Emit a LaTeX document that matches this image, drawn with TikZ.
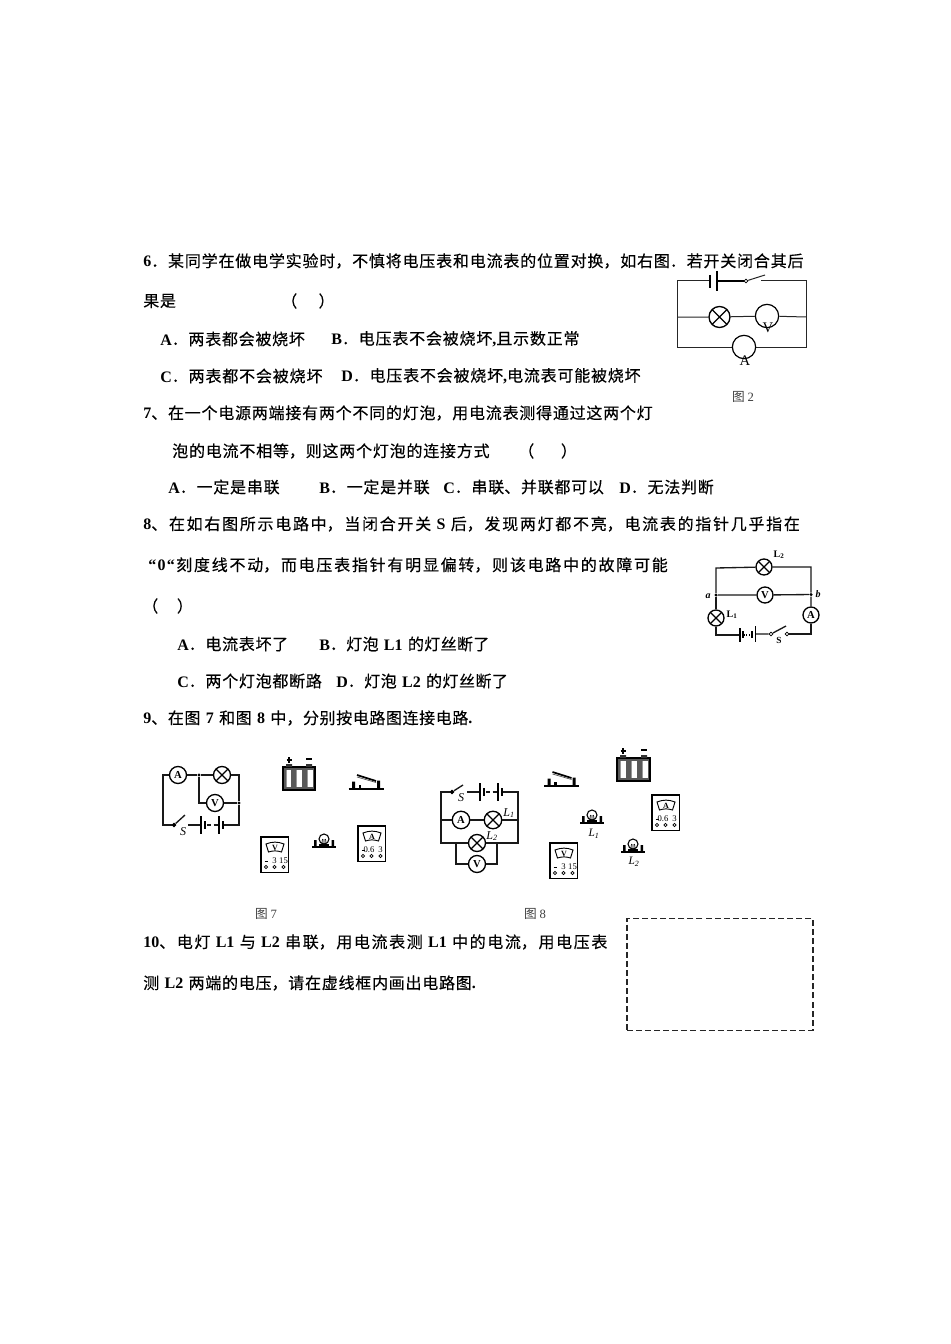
\documentclass[tikz,border=0pt]{standalone}
\usepackage{fontspec}
\setmainfont{Liberation Serif}
\newfontfamily\zhf[FakeBold=0.25]{Noto Sans CJK SC}
\newfontfamily\zhc{Noto Sans CJK SC}
\newfontfamily\ltf{Liberation Serif}[BoldFont={Liberation Serif Bold}]
\newcommand{\la}[1]{{\ltf\bfseries #1}}
\usetikzlibrary{calc}
\tikzset{
  wire/.style={line width=1pt,black!90},
  thinw/.style={line width=0.75pt,black!85},
  meterc/.style={circle,draw=black,line width=1pt,fill=white,inner sep=0pt,minimum size=#1*0.75pt,font=\ltf\bfseries\fontsize{8}{8}\selectfont},
  lamp/.style={circle,draw=black,line width=1pt,fill=white,inner sep=0pt,minimum size=#1*0.75pt,
    path picture={\draw[line width=0.9pt] (path picture bounding box.north west)--(path picture bounding box.south east)
      (path picture bounding box.north east)--(path picture bounding box.south west);}},
  jdot/.style={circle,fill=black,inner sep=0pt,minimum size=2.6pt},
  odot/.style={circle,draw=black,fill=white,line width=0.6pt,inner sep=0pt,minimum size=2.8pt},
  lab/.style={inner sep=0pt,font=\ltf\fontsize{8}{8}\selectfont},
  figcap/.style={inner sep=0pt,text=black!75,font=\zhc\fontsize{9.5}{10}\selectfont},
  tline/.style={anchor=west,inner sep=0pt,font=\zhf\fontsize{12}{14}\selectfont,text=black},
}
% justified single line from x1 to x2
\newcommand{\tl}[5]{%
  \pgfmathsetmacro{\tlw}{(#4+1.5-#2)*0.75}%
  \node[tline,text width=\tlw pt] (#1) at (#2,#3) {\XeTeXlinebreaklocale "zh"\XeTeXlinebreakskip=0pt plus 6pt\parindent=0pt\parfillskip=0pt\relax #5\par};}
% three-cell battery, origin at top-left of case
\newcommand{\batt}[3]{\begin{scope}[shift={(#1,#2)}]
  \filldraw[fill=black!65,draw=black,line width=0.9pt] (0,0) rectangle (#3,23);
  \foreach \i in {0,1,2}{\fill[white] ({2.5+\i*#3/3},3) rectangle ({#3/3*(\i+1)-2.5},20);
    \fill[black!40] ({2.5+\i*#3/3},3) rectangle ({3.5+\i*#3/3},20);}
  \fill[black!80] (3,-3) rectangle (9,0) ({#3-9},-3) rectangle ({#3-3},0);
  \draw[line width=0.9pt] (6,-4) -- (6,-10) (3.5,-7) -- (8.5,-7) ({#3-9},-8) -- ({#3-3},-8);
\end{scope}}
% knife switch, origin at centre of base
\newcommand{\knife}[2]{\begin{scope}[shift={(#1,#2)}]
  \draw[line width=1.6pt] (-17.5,0) -- (17.5,0);
  \fill (-14,0) rectangle (-11,-7.5) (11,0) rectangle (14,-8.5);
  \fill (-7.5,0) rectangle (-5,-4);
  \draw[line width=1.3pt] (-9,-14) -- (10,-8);
  \draw[line width=0.5pt,black!70] (-9,-12) -- (10,-6.5);
\end{scope}}
% bulb on base, origin at centre of base
\newcommand{\bulb}[2]{\begin{scope}[shift={(#1,#2)}]
  \draw[line width=1.7pt] (-12,0) -- (12,0);
  \fill (-10,0) rectangle (-7.5,-7) (7.5,0) rectangle (10,-7);
  \fill (-5,0) rectangle (5,-3);
  \draw[line width=0.8pt,fill=white] (0,-8) circle (5);
  \draw[line width=0.5pt] (-2.5,-1) -- (-1.5,-8) (0,-1)--(0,-8) (2.5,-1)--(1.5,-8);
\end{scope}}
% meter: x,y (top-left), gauge letter, x of label 1, label 1, x of label 2, label 2, name
\newcommand{\meterbox}[8]{\begin{scope}[shift={(#1,#2)}]
  \draw[line width=1pt,fill=white] (0,0) rectangle (27.5,35.5);
  \draw[line width=0.7pt] (5,7) .. controls (11,4.5) and (17,4.5) .. (23,7) -- (20.5,15) .. controls (16,13.5) and (12,13.5) .. (7.5,15) -- cycle;
  \node[inner sep=0pt,font=\ltf\bfseries\fontsize{6}{6}\selectfont] (#8) at (14,10.5) {#3};
  \foreach \xx in {5,13.5,22.5}{\draw[line width=0.5pt] (\xx,30) circle (1.6);}
  \draw[line width=0.5pt] (3.5,24.5) -- (6.5,24.5);
  \node[inner sep=0pt,font=\ltf\fontsize{6.5}{6.5}\selectfont] (#8a) at (#4,24) {#5};
  \node[inner sep=0pt,font=\ltf\fontsize{6.5}{6.5}\selectfont] (#8b) at (#6,24) {#7};
\end{scope}}
\begin{document}
\begin{tikzpicture}[x=0.75pt,y=-0.75pt]
\useasboundingbox (0,0) rectangle (950,1344);
\fill[white] (0,0) rectangle (950,1344);

% ---- text ----
\tl{t6}{143}{261}{805}{\la{6}．某同学在做电学实验时，不慎将电压表和电流表的位置对换，如右图．若开关闭合其后}
\tl{t6b}{143}{301}{177}{果是}
\node[tline] (t6p) at (281,301) {（\hspace{16pt}）};
\tl{t6A}{160}{339}{306}{\la{A}．两表都会被烧坏}
\tl{t6B}{331}{339}{581}{\la{B}．电压表不会被烧坏\la{,}且示数正常}
\tl{t6C}{160}{376}{324}{\la{C}．两表都不会被烧坏}
\tl{t6D}{341}{376}{642}{\la{D}．电压表不会被烧坏\la{,}电流表可能被烧坏}
\tl{t7}{143}{413}{654}{\la{7}、在一个电源两端接有两个不同的灯泡，用电流表测得通过这两个灯}
\tl{t7b}{172}{451}{491}{泡的电流不相等，则这两个灯泡的连接方式}
\node[tline] (t7p) at (518,451) {（\hspace{20pt}）};
\tl{t7A}{168}{487}{281}{\la{A}．一定是串联}
\tl{t7B}{319}{487}{431}{\la{B}．一定是并联}
\tl{t7C}{443}{487}{605}{\la{C}．串联、并联都可以}
\tl{t7D}{619}{487}{715}{\la{D}．无法判断}
\tl{t8}{143}{524}{805}{\la{8}、在如右图所示电路中，当闭合开关 \la{S} 后，发现两灯都不亮，电流表的指针几乎指在}
\tl{t8b}{148}{565}{673}{\la{“\hspace{1pt}0\hspace{1pt}“}\hspace{1pt}刻度线不动，而电压表指针有明显偏转，则该电路中的故障可能}
\node[tline] (t8p) at (142,606) {（\hspace{14pt}）};
\tl{t8A}{177}{644}{289}{\la{A}．电流表坏了}
\tl{t8B}{319}{644}{489}{\la{B}．灯泡 \la{L1} 的灯丝断了}
\tl{t8C}{177}{681}{323}{\la{C}．两个灯泡都断路}
\tl{t8D}{336}{681}{508}{\la{D}．灯泡 \la{L2} 的灯丝断了}
\tl{t9}{143}{718}{473}{\la{9}、在图 \la{7} 和图 \la{8} 中，分别按电路图连接电路\la{.}}
\tl{t10}{143}{942}{612}{\la{10}、电灯 \la{L1} 与 \la{L2} 串联，用电流表测 \la{L1} 中的电流，用电压表}
\tl{t10b}{143}{983}{477}{测 \la{L2} 两端的电压，请在虚线框内画出电路图\la{.}}
\node[figcap] (c2) at (743,397) {图 {\ltf 2}};
\node[figcap] (c7) at (266,914) {图 {\ltf 7}};
\node[figcap] (c8) at (535,914) {图 {\ltf 8}};

% ---- figure 2 ----
\coordinate (a1) at (677,281); \coordinate (a2) at (806,281);
\coordinate (a3) at (677,317); \coordinate (a4) at (806,317);
\coordinate (a5) at (677,347); \coordinate (a6) at (806,347);
\coordinate (ap) at (710,281); \coordinate (aq) at (717,281);
\node[odot] (asw) at (746,281) {};
\coordinate (asl) at (765,275); \coordinate (asr) at (761,281);
\draw[thinw] (ap) -- (a1) -- (a5) -- (a6) -- (a2) -- (asr);
\draw[line width=1.2pt] (aq) -- (asw);
\draw[thinw] (asw) -- (asl);
\draw[line width=1.5pt] (710,275) -- (710,288);
\draw[line width=1pt] (717,271) -- (717,291);
\node[lamp=21] (al) at (719.5,317) {};
\node[circle,draw=black,line width=0.9pt,fill=white,inner sep=0pt,minimum size=17.5pt] (av) at (767,316) {};
\node[circle,draw=black,line width=0.9pt,fill=white,inner sep=0pt,minimum size=17.5pt] (aa) at (744,347) {};
\draw[thinw] (a3) -- (al) -- (av) -- (a4);
\node[lab,font=\ltf\fontsize{11}{11}\selectfont] (avt) at (768,328) {V};
\node[lab,font=\ltf\fontsize{11}{11}\selectfont] (aat) at (745,361) {A};

% ---- figure for question 8 ----
\node[lamp=16] (bl2) at (764,567) {};
\node[meterc=16] (bv) at (765,595) {V};
\node[lamp=16] (bl1) at (716,618) {};
\node[meterc=16] (ba) at (811,615) {A};
\node[jdot] (bja) at (716,595) {};
\node[jdot] (bjb) at (811,594.5) {};
\coordinate (b1) at (716,568); \coordinate (b2) at (811,567);
\coordinate (b3) at (716,635); \coordinate (b4) at (811,634);
\node[odot] (bs1) at (771,634) {};
\node[odot] (bs2) at (787,634) {};
\coordinate (bsl) at (786,626);
\draw[wire] (bja) -- (b1) -- (bl2) -- (b2) -- (bjb);
\draw[wire] (bja) -- (bv) -- (bjb) -- (ba);
\draw[wire] (bja) -- (bl1);
\draw[wire] (bl1) -- (b3) -- (740,635);
\draw[wire] (756,634) -- (bs1) -- (bsl);
\draw[wire] (bs2) -- (b4) -- (ba);
\draw[line width=0.8pt] (740,628) -- (740,642) (755.5,626) -- (755.5,642);
\draw[line width=1.2pt] (743,631) -- (743,638) (752,631) -- (752,638);
\draw[line width=0.8pt,densely dotted] (744,635) -- (751,635);
\node[lab,font=\ltf\bfseries\fontsize{7.5}{8}\selectfont] (bt2) at (779,555) {L\textsubscript{2}};
\node[lab,font=\ltf\bfseries\fontsize{7.5}{8}\selectfont] (bt1) at (732,615) {L\textsubscript{1}};
\node[lab,font=\ltf\bfseries\itshape\fontsize{7.5}{8}\selectfont] (bta) at (708,596) {a};
\node[lab,font=\ltf\bfseries\itshape\fontsize{7.5}{8}\selectfont] (btb) at (818,594) {b};
\node[lab,font=\ltf\bfseries\fontsize{7}{7}\selectfont] (bts) at (779,640) {S};

% ---- figure 7 circuit ----
\node[meterc=17] (ca) at (178,775) {A};
\node[lamp=17] (cl) at (222,775) {};
\node[meterc=17] (cv) at (215,803) {V};
\node[jdot,minimum size=2.4pt] (cj1) at (199,775) {};
\node[jdot,minimum size=2.4pt] (cj2) at (239,803) {};
\node[odot,fill=black] (cs) at (174,825) {};
\coordinate (c1) at (163,775); \coordinate (c2a) at (239,775);
\coordinate (c3) at (163,825); \coordinate (c4) at (239,825);
\coordinate (c5) at (199,803); \coordinate (csl) at (185,815);
\draw[wire] (cs) -- (c3) -- (c1) -- (ca) -- (cj1) -- (cl) -- (c2a) -- (cj2) -- (c4) -- (223,825);
\draw[wire] (cj1) -- (c5) -- (cv) -- (cj2);
\draw[wire] (cs) -- (csl);
\draw[wire] (188,825) -- (201,825);
\draw[line width=0.9pt] (201,816) -- (201,834) (219,816) -- (219,834);
\draw[line width=2.2pt] (205,821) -- (205,829) (223,821) -- (223,829);
\draw[wire,dash pattern=on 3pt off 2pt] (207,825) -- (218,825);
\node[lab,font=\ltf\itshape\fontsize{9}{9}\selectfont] (cts) at (183,832) {S};

% ---- figure 8 circuit ----
\node[meterc=17.5] (da) at (461,820) {A};
\node[lamp=17.5] (dl1) at (493,820) {};
\node[lamp=17] (dl2) at (477,843) {};
\node[meterc=17] (dv) at (477,864) {V};
\node[odot,fill=black] (ds) at (452,792) {};
\coordinate (d1) at (441,792); \coordinate (d2) at (518,792);
\coordinate (d3) at (441,820); \coordinate (d4) at (518,820);
\coordinate (d5) at (441,843); \coordinate (d6) at (518,843);
\coordinate (d7) at (456,843); \coordinate (d8) at (497,843);
\coordinate (d9) at (456,864); \coordinate (d10) at (497,864);
\coordinate (dsl) at (463,785);
\draw[wire] (ds) -- (d1) -- (d5) -- (dl2) -- (d6) -- (d2) -- (502,792);
\draw[wire] (d3) -- (da) -- (dl1) -- (d4);
\draw[wire] (d7) -- (d9) -- (dv) -- (d10) -- (d8);
\draw[wire] (ds) -- (dsl);
\draw[wire] (467,792) -- (480,792);
\draw[line width=0.9pt] (480,783) -- (480,801) (498,783) -- (498,801);
\draw[line width=2.2pt] (484,788) -- (484,796) (502,788) -- (502,796);
\draw[wire,dash pattern=on 3pt off 2pt] (486,792) -- (497,792);
\node[lab,font=\ltf\itshape\fontsize{9}{9}\selectfont] (dts) at (461,798) {S};
\node[lab,font=\ltf\itshape\fontsize{9}{9}\selectfont] (dtl1) at (509,813) {L\textsubscript{1}};
\node[lab,font=\ltf\itshape\fontsize{9}{9}\selectfont] (dtl2) at (492,836) {L\textsubscript{2}};

% ---- loose components ----
\batt{283}{767}{32}
\knife{366}{789}
\bulb{324}{847}
\meterbox{261}{837}{V}{13.5}{3}{22.5}{15}{mv7}
\meterbox{358}{826}{A}{11}{0.6}{22.5}{3}{ma7}
\batt{617}{758}{33}
\knife{561.5}{786}
\bulb{592}{823}
\bulb{633}{852}
\meterbox{550}{843}{V}{13.5}{3}{22.5}{15}{mv8}
\meterbox{652}{795}{A}{11}{0.6}{22.5}{3}{ma8}
\node[lab,font=\ltf\itshape\fontsize{8.5}{9}\selectfont] (el1) at (594,834) {L\textsubscript{1}};
\node[lab,font=\ltf\itshape\fontsize{8.5}{9}\selectfont] (el2) at (634,862) {L\textsubscript{2}};

% ---- answer box ----
\node[draw=black!85,line width=0.8pt,dash pattern=on 4.5pt off 2.3pt,inner sep=0pt,minimum width=139.5pt,minimum height=83.6pt] (box) at (720,974.3) {};
\end{tikzpicture}
\end{document}
